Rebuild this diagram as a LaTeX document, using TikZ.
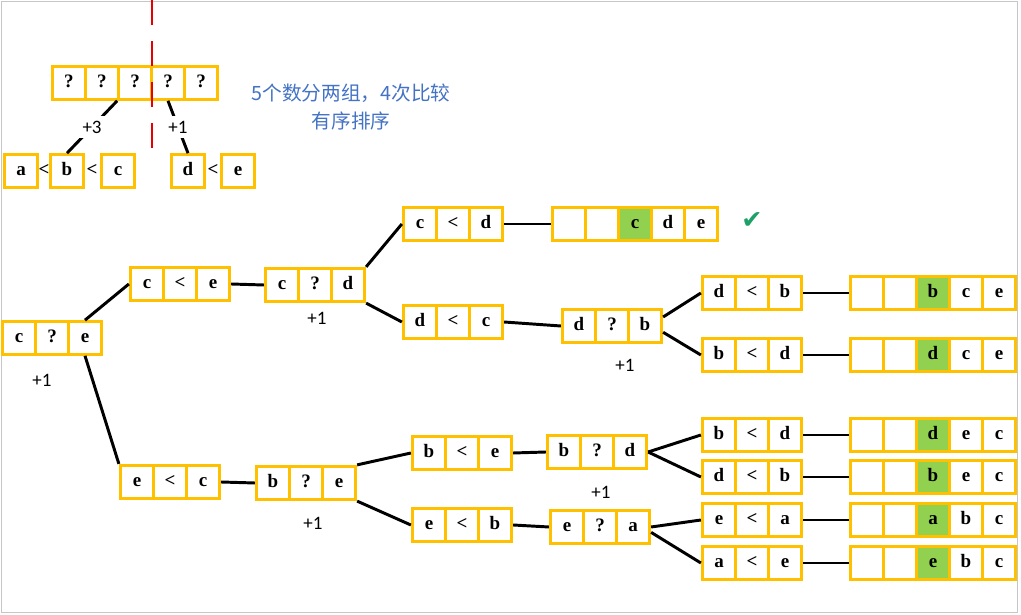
\documentclass[tikz,border=0pt]{standalone}
\usepackage{fontspec}
\newfontfamily\cellfont{Liberation Serif}
\newfontfamily\costfont{Carlito}
\newfontfamily\cjkfont{Noto Sans CJK SC}
\newfontfamily\symfont{DejaVu Sans}
\usetikzlibrary{matrix}
\definecolor{boxorange}{RGB}{255,192,0}
\definecolor{hitgreen}{RGB}{146,208,80}
\definecolor{noteblue}{RGB}{68,114,196}
\definecolor{tickgreen}{RGB}{30,160,105}
\definecolor{cutred}{RGB}{230,0,0}

\begin{document}
\begin{tikzpicture}[x=0.025cm, y=-0.025cm,
  cell/.style={draw=boxorange, line width=1.9pt, minimum size=0.825cm, inner sep=0pt, anchor=center, text height=0.68em, text depth=0.05em, font=\cellfont\bfseries\fontsize{13.5}{15}\selectfont},
  box/.style={matrix of nodes, nodes={cell}, column sep=-1.9pt, inner sep=0pt},
  result/.style={box, nodes in empty cells, column 3/.style={nodes={fill=hitgreen}}},
  link/.style={line width=2.1pt},
  cost/.style={font=\costfont\fontsize{13.5}{15}\selectfont}]
\useasboundingbox (0,0) rectangle (1021,615);
\draw[gray!45, line width=0.7pt] (1,1) rectangle (1017,612);

\matrix (q) [box] at (135,83) {? & ? & ? & ? & ?\\};
\node[cell] (a) at (21,171) {a};
\node[cell] (b) at (67,171) {b};
\node[cell] (c) at (118,171) {c};
\node[cell] (d) at (188,171) {d};
\node[cell] (e) at (238,171) {e};
\node[font=\cellfont\bfseries\fontsize{13.5}{15}\selectfont] (lt1) at (44,170) {<};
\node[font=\cellfont\bfseries\fontsize{13.5}{15}\selectfont] (lt2) at (92,170) {<};
\node[font=\cellfont\bfseries\fontsize{13.5}{15}\selectfont] (lt3) at (213,170) {<};
\draw[link] (q-1-3.south west) -- node[cost, fill=white] (p3) {+3} (b.north);
\draw[link] (q-1-4.south) -- node[cost, fill=white] (p1) {+1} (d.north);
\coordinate (cut top) at (152,0);
\coordinate (cut end) at (152,150);
\draw[cutred, line width=2.1pt, dash pattern=on 17.8pt off 11.4pt] (cut top) -- (cut end);
\node[font=\cjkfont\fontsize{14}{20}\selectfont, text=noteblue, align=center] (note) at (351,107) {5个数分两组，4次比较\\有序排序};

\matrix (root) [box] at (52,338) {c & ? & e\\};
\matrix (clte) [box] at (180,284) {c & < & e\\};
\matrix (cqd) [box] at (315,285) {c & ? & d\\};
\matrix (cltd) [box] at (453,224) {c & < & d\\};
\matrix (res1) [result] at (635,224) { & & c & d & e\\};
\node[font=\symfont\fontsize{18}{20}\selectfont, text=tickgreen] (tick) at (752,221) {✔};
\matrix (dltc) [box] at (453,322) {d & < & c\\};
\matrix (dqb) [box] at (612,326) {d & ? & b\\};
\matrix (dltb) [box] at (752,293) {d & < & b\\};
\matrix (res2) [result] at (933,293) { & & b & c & e\\};
\matrix (bltd) [box] at (752,355) {b & < & d\\};
\matrix (res3) [result] at (933,355) { & & d & c & e\\};

\matrix (eltc) [box] at (170,482) {e & < & c\\};
\matrix (bqe) [box] at (306,483) {b & ? & e\\};
\matrix (blte) [box] at (462,453) {b & < & e\\};
\matrix (eltb) [box] at (462,525) {e & < & b\\};
\matrix (bqd) [box] at (597,452) {b & ? & d\\};
\matrix (eqa) [box] at (600,527) {e & ? & a\\};
\matrix (bltd2) [box] at (752,435) {b & < & d\\};
\matrix (dltb2) [box] at (752,477) {d & < & b\\};
\matrix (elta) [box] at (752,520) {e & < & a\\};
\matrix (alte) [box] at (752,563) {a & < & e\\};
\matrix (res4) [result] at (933,435) { & & d & e & c\\};
\matrix (res5) [result] at (933,477) { & & b & e & c\\};
\matrix (res6) [result] at (933,520) { & & a & b & c\\};
\matrix (res7) [result] at (933,563) { & & e & b & c\\};

\node[cost] (c1) at (42,380) {+1};
\node[cost] (c2) at (317,318) {+1};
\node[cost] (c3) at (625,365) {+1};
\node[cost] (c4) at (313,523) {+1};
\node[cost] (c5) at (601,492) {+1};

\draw[link] (root-1-3.north) -- (clte.west);
\draw[link] (root-1-3.south) -- (eltc.north west);
\draw[link] (clte.east) -- (cqd.west);
\draw[link] (cqd.north east) -- (cltd.west);
\draw[link] (cqd.south east) -- (dltc.west);
\draw[link] (cltd.east) -- (res1.west);
\draw[link] (dltc.east) -- (dqb.west);
\draw[link] (dqb.10) -- (dltb.west);
\draw[link] (dqb.-7) -- (bltd.west);
\draw[link] (dltb.east) -- (res2.west);
\draw[link] (bltd.east) -- (res3.west);
\draw[link] (eltc.east) -- (bqe.west);
\draw[link] (bqe.north east) -- (blte.west);
\draw[link] (bqe.south east) -- (eltb.west);
\draw[link] (blte.east) -- (bqd.west);
\draw[link] (eltb.east) -- (eqa.west);
\draw[link] (bqd.east) -- (bltd2.west);
\draw[link] (bqd.east) -- (dltb2.west);
\draw[link] (eqa.east) -- (elta.west);
\draw[link] (eqa.-6) -- (alte.west);
\draw[link] (bltd2.east) -- (res4.west);
\draw[link] (dltb2.east) -- (res5.west);
\draw[link] (elta.east) -- (res6.west);
\draw[link] (alte.east) -- (res7.west);
\end{tikzpicture}
\end{document}
